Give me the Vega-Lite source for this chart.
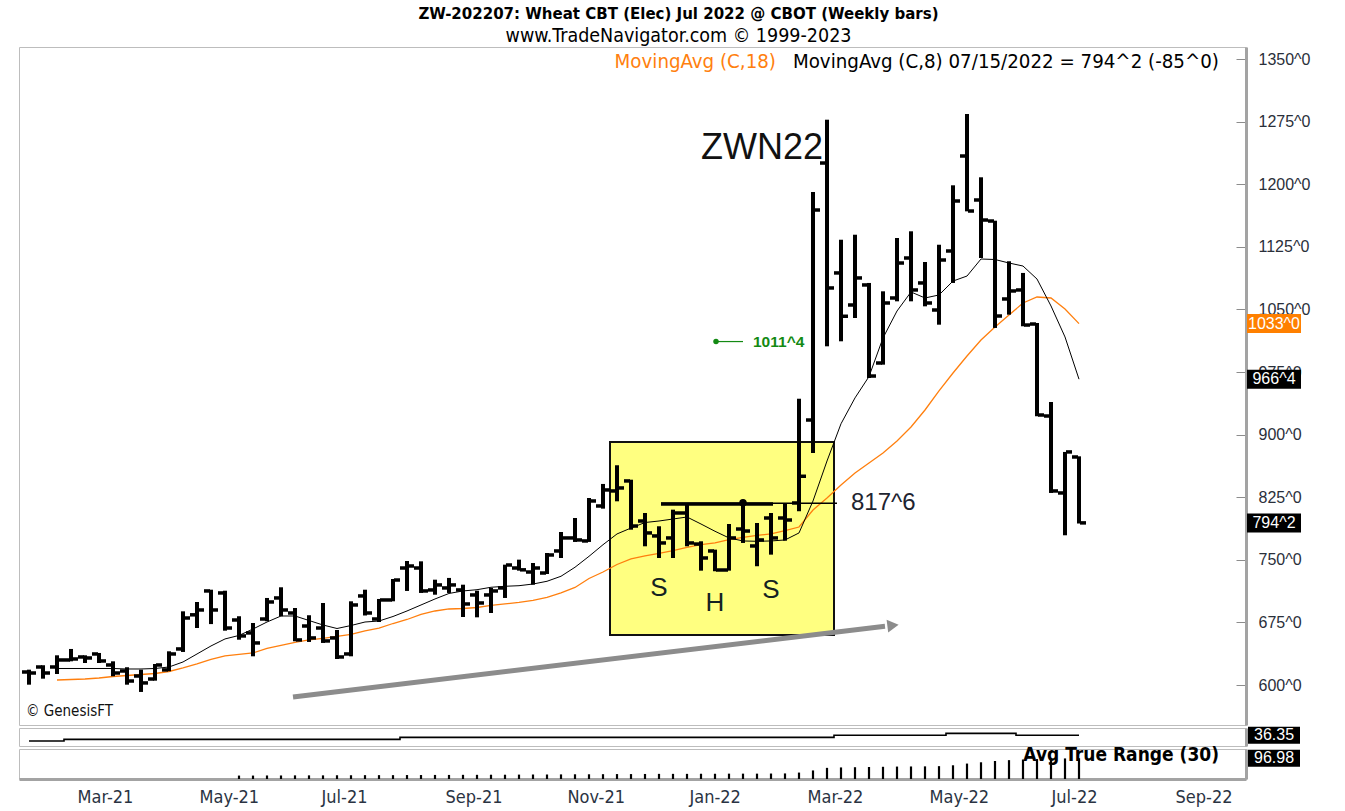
{
  "$schema": "https://vega.github.io/schema/vega-lite/v6.json",
  "background": "white",
  "padding": {"left": 18, "top": 6, "right": 0, "bottom": 0},
  "bounds": "flush",
  "title": {
    "text": "ZW-202207:  Wheat CBT (Elec) Jul 2022 @ CBOT  (Weekly bars)",
    "subtitle": "www.TradeNavigator.com © 1999-2023",
    "anchor": "middle",
    "font": "Liberation Sans Narrow, DejaVu Sans Condensed, Arial Narrow, sans-serif",
    "fontSize": 16.7,
    "fontWeight": "bold",
    "color": "#000",
    "subtitleFont": "Liberation Sans Narrow, DejaVu Sans Condensed, Arial Narrow, sans-serif",
    "subtitleFontSize": 19.5,
    "subtitleColor": "#000",
    "subtitlePadding": 4,
    "offset": 1,
    "dx": 14
  },
  "config": {
    "view": {"stroke": "#bdbdbd", "strokeWidth": 1},
    "axis": {"grid": false, "labelOverlap": false, "labelBound": false, "labelFlush": false}
  },
  "resolve": {"scale": {"x": "independent", "y": "independent"}},
  "spacing": 3,
  "datasets": {
    "bars": [
      {"d":"2021-02-05","o":615.6,"h":618.4,"l":600.4,"c":614.4,"ind":33.5},
      {"d":"2021-02-12","o":621.6,"h":623.7,"l":607.6,"c":614.4,"ind":33.5},
      {"d":"2021-02-19","o":621.6,"h":635.6,"l":613.2,"c":630.0,"m8":619.8,"m18":606.0,"ind":33.5},
      {"d":"2021-02-26","o":630.0,"h":643.2,"l":628.4,"c":631.2,"m8":619.8,"m18":606.6,"ind":34.3},
      {"d":"2021-03-05","o":633.6,"h":635.6,"l":626.4,"c":632.4,"m8":619.8,"m18":607.2,"ind":34.3},
      {"d":"2021-03-12","o":637.2,"h":638.4,"l":626.4,"c":628.8,"m8":619.8,"m18":608.4,"ind":34.3},
      {"d":"2021-03-19","o":624.0,"h":628.4,"l":610.5,"c":614.4,"m8":619.8,"m18":610.2,"ind":34.3},
      {"d":"2021-03-26","o":616.8,"h":621.3,"l":600.4,"c":604.8,"m8":619.2,"m18":611.4,"ind":34.3},
      {"d":"2021-04-02","o":610.8,"h":618.4,"l":591.7,"c":602.5,"m8":619.2,"m18":612.6,"ind":34.3},
      {"d":"2021-04-09","o":607.2,"h":625.2,"l":605.2,"c":624.0,"m8":619.8,"m18":613.8,"ind":34.3},
      {"d":"2021-04-16","o":618.1,"h":640.4,"l":616.5,"c":637.2,"m8":621.6,"m18":616.2,"ind":34.3},
      {"d":"2021-04-23","o":643.2,"h":688.3,"l":639.6,"c":680.3,"m8":627.6,"m18":620.4,"ind":34.3},
      {"d":"2021-04-30","o":684.1,"h":699.5,"l":668.3,"c":689.9,"m8":637.2,"m18":625.2,"ind":34.3},
      {"d":"2021-05-07","o":712.7,"h":714.2,"l":673.0,"c":689.9,"m8":646.8,"m18":630.6,"ind":34.3},
      {"d":"2021-05-14","o":710.3,"h":713.0,"l":665.1,"c":668.3,"m8":655.2,"m18":634.8,"ind":34.3},
      {"d":"2021-05-21","o":677.9,"h":682.4,"l":654.3,"c":658.8,"m8":659.4,"m18":636.6,"atr":16,"ind":34.3},
      {"d":"2021-05-28","o":662.4,"h":674.3,"l":634.4,"c":650.4,"m8":667.1,"m18":638.4,"atr":16,"ind":34.3},
      {"d":"2021-06-04","o":679.1,"h":704.3,"l":676.4,"c":699.5,"m8":675.5,"m18":643.8,"atr":16.5,"ind":34.3},
      {"d":"2021-06-11","o":704.3,"h":717.1,"l":682.4,"c":689.9,"m8":682.7,"m18":647.4,"atr":16.5,"ind":34.3},
      {"d":"2021-06-18","o":686.3,"h":692.3,"l":652.4,"c":654.0,"m8":682.7,"m18":651.0,"atr":17,"ind":34.3},
      {"d":"2021-06-25","o":670.7,"h":683.6,"l":651.6,"c":656.4,"m8":677.3,"m18":654.0,"atr":17,"ind":34.3},
      {"d":"2021-07-02","o":668.3,"h":698.3,"l":650.4,"c":652.8,"m8":671.9,"m18":655.8,"atr":17,"ind":34.3},
      {"d":"2021-07-09","o":656.4,"h":665.9,"l":631.2,"c":633.6,"m8":667.7,"m18":658.2,"atr":17.5,"ind":34.3},
      {"d":"2021-07-16","o":637.2,"h":700.3,"l":634.4,"c":695.9,"m8":671.3,"m18":660.6,"atr":17.5,"ind":34.3},
      {"d":"2021-07-23","o":706.7,"h":714.2,"l":683.3,"c":686.3,"m8":675.5,"m18":664.8,"atr":18,"ind":34.3},
      {"d":"2021-07-30","o":679.1,"h":703.1,"l":675.5,"c":701.9,"m8":676.7,"m18":668.3,"atr":18,"ind":34.3},
      {"d":"2021-08-06","o":701.9,"h":727.0,"l":700.3,"c":725.8,"m8":682.1,"m18":673.7,"atr":18,"ind":34.3},
      {"d":"2021-08-13","o":740.2,"h":748.6,"l":712.7,"c":742.6,"m8":688.7,"m18":678.5,"atr":18.5,"ind":35.3},
      {"d":"2021-08-20","o":740.2,"h":748.2,"l":710.3,"c":712.7,"m8":695.9,"m18":684.5,"atr":18.5,"ind":35.3},
      {"d":"2021-08-27","o":713.9,"h":726.2,"l":708.2,"c":719.9,"m8":703.1,"m18":688.7,"atr":19,"ind":35.3},
      {"d":"2021-09-03","o":716.3,"h":728.3,"l":710.3,"c":719.9,"m8":709.7,"m18":691.1,"atr":19,"ind":35.3},
      {"d":"2021-09-10","o":713.9,"h":720.2,"l":681.5,"c":697.1,"m8":712.7,"m18":691.7,"atr":19.5,"ind":35.3},
      {"d":"2021-09-17","o":707.9,"h":713.0,"l":681.1,"c":698.3,"m8":714.2,"m18":692.9,"atr":19.5,"ind":35.3},
      {"d":"2021-09-24","o":707.9,"h":716.3,"l":686.3,"c":712.7,"m8":717.1,"m18":695.3,"atr":20,"ind":35.3},
      {"d":"2021-10-01","o":716.3,"h":744.2,"l":704.3,"c":743.8,"m8":718.3,"m18":697.1,"atr":20,"ind":35.3},
      {"d":"2021-10-08","o":740.2,"h":750.2,"l":737.0,"c":738.0,"m8":719.0,"m18":698.9,"atr":20.5,"ind":35.3},
      {"d":"2021-10-15","o":735.4,"h":746.2,"l":720.2,"c":740.2,"m8":721.0,"m18":701.3,"atr":21,"ind":35.3},
      {"d":"2021-10-22","o":734.2,"h":758.2,"l":733.0,"c":755.8,"m8":724.3,"m18":704.9,"atr":21,"ind":35.3},
      {"d":"2021-10-29","o":760.6,"h":783.3,"l":752.2,"c":776.2,"m8":730.3,"m18":710.3,"atr":21.5,"ind":35.3},
      {"d":"2021-11-05","o":776.2,"h":800.1,"l":771.4,"c":773.8,"m8":741.1,"m18":716.9,"atr":22,"ind":35.3},
      {"d":"2021-11-12","o":772.6,"h":824.1,"l":771.4,"c":820.5,"m8":754.2,"m18":727.6,"atr":22,"ind":35.3},
      {"d":"2021-11-19","o":814.5,"h":840.9,"l":811.3,"c":833.7,"m8":768.1,"m18":735.4,"atr":22.5,"ind":35.3},
      {"d":"2021-11-26","o":832.5,"h":863.3,"l":820.1,"c":836.1,"m8":781.0,"m18":744.4,"atr":23,"ind":35.3},
      {"d":"2021-12-03","o":844.5,"h":846.0,"l":786.1,"c":790.5,"m8":788.1,"m18":751.0,"atr":23,"ind":35.3},
      {"d":"2021-12-10","o":796.5,"h":806.1,"l":766.2,"c":782.2,"m8":794.7,"m18":754.6,"atr":23.5,"ind":35.3},
      {"d":"2021-12-17","o":778.6,"h":790.2,"l":752.2,"c":770.2,"m8":796.5,"m18":757.6,"atr":24,"ind":35.3},
      {"d":"2021-12-24","o":776.2,"h":810.1,"l":752.2,"c":806.1,"m8":798.9,"m18":761.0,"atr":24,"ind":35.3},
      {"d":"2021-12-31","o":806.1,"h":818.1,"l":766.2,"c":770.2,"m8":801.3,"m18":764.8,"atr":24,"ind":35.3},
      {"d":"2022-01-07","o":768.9,"h":772.2,"l":737.0,"c":752.2,"m8":792.9,"m18":768.1,"atr":24.5,"ind":35.3},
      {"d":"2022-01-14","o":760.6,"h":762.2,"l":736.3,"c":737.8,"m8":784.2,"m18":770.2,"atr":24.5,"ind":35.3},
      {"d":"2022-01-21","o":737.8,"h":792.9,"l":737.0,"c":776.2,"m8":776.2,"m18":774.1,"atr":25,"ind":35.3},
      {"d":"2022-01-28","o":786.9,"h":820.1,"l":770.2,"c":784.5,"m8":772.6,"m18":777.0,"atr":25,"ind":35.3},
      {"d":"2022-02-04","o":766.6,"h":794.1,"l":742.3,"c":773.8,"m8":772.2,"m18":779.4,"atr":25,"ind":35.3},
      {"d":"2022-02-11","o":800.1,"h":806.1,"l":756.2,"c":776.2,"m8":772.6,"m18":781.0,"atr":25.5,"ind":35.3},
      {"d":"2022-02-18","o":800.1,"h":816.9,"l":772.9,"c":797.7,"m8":773.8,"m18":784.9,"atr":26,"ind":35.3},
      {"d":"2022-02-25","o":818.1,"h":943.0,"l":808.2,"c":850.1,"m8":782.2,"m18":789.3,"atr":30,"ind":35.3},
      {"d":"2022-03-04","o":917.5,"h":1190.7,"l":878.0,"c":1169.1,"m8":820.5,"m18":809.7,"atr":40,"ind":35.3},
      {"d":"2022-03-11","o":1225.4,"h":1277.3,"l":1005.8,"c":1075.7,"m8":868.4,"m18":824.1,"atr":52,"ind":35.3},
      {"d":"2022-03-18","o":1093.7,"h":1133.5,"l":1011.8,"c":1041.8,"m8":913.0,"m18":839.7,"atr":54,"ind":36.35},
      {"d":"2022-03-25","o":1055.3,"h":1139.5,"l":1039.7,"c":1087.7,"m8":944.0,"m18":854.0,"atr":55,"ind":36.35},
      {"d":"2022-04-01","o":1079.3,"h":1081.7,"l":967.8,"c":970.2,"m8":969.6,"m18":866.0,"atr":56,"ind":36.35},
      {"d":"2022-04-08","o":985.8,"h":1071.7,"l":983.8,"c":1057.7,"m8":1015.8,"m18":878.0,"atr":57,"ind":36.35},
      {"d":"2022-04-15","o":1063.7,"h":1135.6,"l":1059.7,"c":1105.6,"m8":1048.1,"m18":892.4,"atr":58,"ind":36.35},
      {"d":"2022-04-22","o":1111.6,"h":1143.6,"l":1059.7,"c":1073.3,"m8":1070.9,"m18":909.1,"atr":58.5,"ind":36.35},
      {"d":"2022-04-29","o":1081.7,"h":1106.8,"l":1053.7,"c":1057.7,"m8":1063.7,"m18":929.5,"atr":59,"ind":36.35},
      {"d":"2022-05-06","o":1049.3,"h":1127.5,"l":1031.7,"c":1109.2,"m8":1067.3,"m18":952.3,"atr":60,"ind":36.35},
      {"d":"2022-05-13","o":1120.0,"h":1198.7,"l":1081.7,"c":1179.9,"m8":1084.0,"m18":973.8,"atr":64,"ind":37.3},
      {"d":"2022-05-20","o":1233.8,"h":1284.1,"l":1167.5,"c":1167.9,"m8":1090.0,"m18":994.2,"atr":72,"ind":37.3},
      {"d":"2022-05-27","o":1181.1,"h":1208.3,"l":1111.6,"c":1157.1,"m8":1110.4,"m18":1013.4,"atr":78,"ind":37.3},
      {"d":"2022-06-03","o":1155.9,"h":1156.3,"l":1027.8,"c":1042.1,"m8":1109.8,"m18":1028.9,"atr":84,"ind":37.3},
      {"d":"2022-06-10","o":1062.5,"h":1107.7,"l":1043.7,"c":1072.1,"m8":1105.6,"m18":1043.3,"atr":88,"ind":37.3},
      {"d":"2022-06-17","o":1073.3,"h":1093.7,"l":1029.8,"c":1031.3,"m8":1102.0,"m18":1057.7,"atr":91,"ind":36.35},
      {"d":"2022-06-24","o":1032.5,"h":1033.7,"l":922.0,"c":923.5,"m8":1086.4,"m18":1064.9,"atr":93,"ind":36.35},
      {"d":"2022-07-01","o":922.3,"h":939.1,"l":830.1,"c":832.5,"m8":1054.1,"m18":1063.7,"atr":95,"ind":36.35},
      {"d":"2022-07-08","o":830.1,"h":879.25,"l":779.4,"c":879.25,"m8":1017.0,"m18":1050.5,"atr":96,"ind":36.35},
      {"d":"2022-07-15","o":873.2,"h":874.0,"l":793.5,"c":794.25,"m8":966.4,"m18":1033.0,"atr":96.98,"ind":36.35}
    ]
  },
  "vconcat": [
    {
      "width": 1227,
      "height": 678,
      "data": {"name": "bars"},
      "encoding": {
        "x": {"field": "d", "type": "temporal", "axis": null,
              "scale": {"type": "utc", "domain": [{"year": 2021, "month": 1, "date": 31, "utc": true}, {"year": 2022, "month": 10, "date": 6, "hours": 12, "utc": true}]}}
      },
      "layer": [
        {
          "data": {"values": [{"start": "2021-11-22T12:00:00Z", "end": "2022-03-14T12:00:00Z", "lo": 660.0, "hi": 891.2}]},
          "mark": {"type": "rect", "fill": "#ffff80", "stroke": "#111", "strokeWidth": 2},
          "encoding": {
            "x": {"field": "start", "type": "temporal", "axis": null, "scale": {"type": "utc", "domain": [{"year": 2021, "month": 1, "date": 31, "utc": true}, {"year": 2022, "month": 10, "date": 6, "hours": 12, "utc": true}]}},
            "x2": {"field": "end"},
            "y": {"field": "lo", "type": "quantitative", "scale": {"domain": [552.1, 1364.4], "nice": false, "zero": false},
                  "axis": {"orient": "right", "title": null,
                           "values": [600, 675, 750, 825, 900, 975, 1050, 1125, 1200, 1275, 1350],
                           "labelExpr": "datum.value + '^0'",
                           "tickSize": -10,
                           "tickColor": "#8c8c8c", "tickWidth": 1,
                           "labelPadding": 22, "labelAlign": "left", "labelBaseline": "middle",
                           "labelFont": "Liberation Sans, Arial, sans-serif", "labelFontSize": 16, "labelColor": "#2a2f3a",
                           "labelOverlap": false, "labelBound": false, "labelFlush": false,
                           "domainColor": "#a3a3a3", "domainWidth": 3}},
            "y2": {"field": "hi"}
          }
        },
        {
          "data": {"values": [{"d": "2021-06-17", "p": 585.7}, {"d": "2022-04-09", "p": 670.4}]},
          "mark": {"type": "line", "color": "#8c8c8c", "strokeWidth": 5, "strokeCap": "butt"},
          "encoding": {
            "y": {"field": "p", "type": "quantitative", "axis": {"title": null}, "scale": {"domain": [552.1, 1364.4], "nice": false, "zero": false}}
          }
        },
        {
          "data": {"values": [{"d": "2022-04-13", "p": 671.4}]},
          "mark": {"type": "point", "shape": "triangle-right", "filled": true, "color": "#8c8c8c", "size": 170, "angle": -7, "opacity": 1},
          "encoding": {
            "y": {"field": "p", "type": "quantitative", "axis": {"title": null}, "scale": {"domain": [552.1, 1364.4], "nice": false, "zero": false}}
          }
        },
        {
          "mark": {"type": "line", "color": "#ff7f0e", "strokeWidth": 1.3},
          "encoding": {
            "y": {"field": "m18", "type": "quantitative", "axis": {"title": null}, "scale": {"domain": [552.1, 1364.4], "nice": false, "zero": false}}
          }
        },
        {
          "mark": {"type": "line", "color": "#000", "strokeWidth": 1},
          "encoding": {
            "y": {"field": "m8", "type": "quantitative", "axis": {"title": null}, "scale": {"domain": [552.1, 1364.4], "nice": false, "zero": false}}
          }
        },
        {
          "data": {"values": [{"a": "2021-12-18", "b": "2022-03-16", "p": 817.75}]},
          "mark": {"type": "rule", "color": "#000", "strokeWidth": 1.5},
          "encoding": {
            "x": {"field": "a", "type": "temporal", "axis": null, "scale": {"type": "utc", "domain": [{"year": 2021, "month": 1, "date": 31, "utc": true}, {"year": 2022, "month": 10, "date": 6, "hours": 12, "utc": true}]}},
            "x2": {"field": "b"},
            "y": {"field": "p", "type": "quantitative", "axis": {"title": null}, "scale": {"domain": [552.1, 1364.4], "nice": false, "zero": false}}
          }
        },
        {
          "data": {"values": [{"a": "2021-12-18", "b": "2022-02-12", "p": 816.8}]},
          "mark": {"type": "rule", "color": "#000", "strokeWidth": 3.5},
          "encoding": {
            "x": {"field": "a", "type": "temporal", "axis": null, "scale": {"type": "utc", "domain": [{"year": 2021, "month": 1, "date": 31, "utc": true}, {"year": 2022, "month": 10, "date": 6, "hours": 12, "utc": true}]}},
            "x2": {"field": "b"},
            "y": {"field": "p", "type": "quantitative", "axis": {"title": null}, "scale": {"domain": [552.1, 1364.4], "nice": false, "zero": false}}
          }
        },
        {
          "data": {"values": [{"d": "2022-01-28", "p": 818.5}]},
          "mark": {"type": "circle", "color": "#000", "size": 55, "opacity": 1},
          "encoding": {
            "y": {"field": "p", "type": "quantitative", "axis": {"title": null}, "scale": {"domain": [552.1, 1364.4], "nice": false, "zero": false}}
          }
        },
        {
          "mark": {"type": "rule", "color": "#000", "strokeWidth": 4, "strokeCap": "butt"},
          "encoding": {
            "y": {"field": "l", "type": "quantitative", "axis": {"title": null}, "scale": {"domain": [552.1, 1364.4], "nice": false, "zero": false}},
            "y2": {"field": "h"}
          }
        },
        {
          "mark": {"type": "tick", "orient": "horizontal", "size": 6, "thickness": 3.5, "xOffset": -4, "color": "#000", "opacity": 1},
          "encoding": {
            "y": {"field": "o", "type": "quantitative", "axis": {"title": null}, "scale": {"domain": [552.1, 1364.4], "nice": false, "zero": false}}
          }
        },
        {
          "mark": {"type": "tick", "orient": "horizontal", "size": 6, "thickness": 3.5, "xOffset": 4, "color": "#000", "opacity": 1},
          "encoding": {
            "y": {"field": "c", "type": "quantitative", "axis": {"title": null}, "scale": {"domain": [552.1, 1364.4], "nice": false, "zero": false}}
          }
        },
        {
          "data": {"values": [{"d": "2022-01-14T12:00:00Z", "p": 1011.5}]},
          "mark": {"type": "circle", "color": "#138a13", "size": 30, "opacity": 1},
          "encoding": {
            "y": {"field": "p", "type": "quantitative", "axis": {"title": null}, "scale": {"domain": [552.1, 1364.4], "nice": false, "zero": false}}
          }
        },
        {
          "data": {"values": [{"a": "2022-01-14T12:00:00Z", "b": "2022-01-28", "p": 1011.5}]},
          "mark": {"type": "rule", "color": "#138a13", "strokeWidth": 1.2},
          "encoding": {
            "x": {"field": "a", "type": "temporal", "axis": null, "scale": {"type": "utc", "domain": [{"year": 2021, "month": 1, "date": 31, "utc": true}, {"year": 2022, "month": 10, "date": 6, "hours": 12, "utc": true}]}},
            "x2": {"field": "b"},
            "y": {"field": "p", "type": "quantitative", "axis": {"title": null}, "scale": {"domain": [552.1, 1364.4], "nice": false, "zero": false}}
          }
        },
        {
          "data": {"values": [{"d": "2022-02-02", "p": 1011.5, "t": "1011^4"}]},
          "mark": {"type": "text", "align": "left", "baseline": "middle", "font": "Liberation Sans, Arial, sans-serif", "fontSize": 15.5, "fontWeight": "bold", "color": "#138a13"},
          "encoding": {
            "y": {"field": "p", "type": "quantitative", "axis": {"title": null}, "scale": {"domain": [552.1, 1364.4], "nice": false, "zero": false}},
            "text": {"field": "t"}
          }
        },
        {
          "data": {"values": [{"d": "2022-03-09", "p": 1243.4, "t": "ZWN22"}]},
          "mark": {"type": "text", "align": "right", "baseline": "middle", "font": "Liberation Sans, Arial, sans-serif", "fontSize": 36, "color": "#111"},
          "encoding": {
            "y": {"field": "p", "type": "quantitative", "axis": {"title": null}, "scale": {"domain": [552.1, 1364.4], "nice": false, "zero": false}},
            "text": {"field": "t"}
          }
        },
        {
          "data": {"values": [{"d": "2022-03-23", "p": 817.75, "t": "817^6"}]},
          "mark": {"type": "text", "align": "left", "baseline": "middle", "font": "Liberation Sans, Arial, sans-serif", "fontSize": 24, "color": "#1e2430"},
          "encoding": {
            "y": {"field": "p", "type": "quantitative", "axis": {"title": null}, "scale": {"domain": [552.1, 1364.4], "nice": false, "zero": false}},
            "text": {"field": "t"}
          }
        },
        {
          "data": {"values": [{"d": "2021-12-17", "p": 716.3, "t": "S"}, {"d": "2022-01-14", "p": 698.3, "t": "H"}, {"d": "2022-02-11", "p": 713.9, "t": "S"}]},
          "mark": {"type": "text", "align": "center", "baseline": "middle", "font": "Liberation Sans, Arial, sans-serif", "fontSize": 26, "color": "#142222"},
          "encoding": {
            "y": {"field": "p", "type": "quantitative", "axis": {"title": null}, "scale": {"domain": [552.1, 1364.4], "nice": false, "zero": false}},
            "text": {"field": "t"}
          }
        },
        {
          "data": {"values": [{"d": "2021-02-03T12:00:00Z", "p": 568.9, "t": "© GenesisFT"}]},
          "mark": {"type": "text", "align": "left", "baseline": "middle", "font": "Liberation Sans Narrow, DejaVu Sans Condensed, Arial Narrow, sans-serif", "fontSize": 15, "color": "#111"},
          "encoding": {
            "y": {"field": "p", "type": "quantitative", "axis": {"title": null}, "scale": {"domain": [552.1, 1364.4], "nice": false, "zero": false}},
            "text": {"field": "t"}
          }
        },
        {
          "data": {"values": [{"d": "2022-09-23", "p": 1347, "t": "MovingAvg (C,8)   07/15/2022 = 794^2 (-85^0)"}]},
          "mark": {"type": "text", "align": "right", "baseline": "middle", "font": "Liberation Sans Narrow, DejaVu Sans Condensed, Arial Narrow, sans-serif", "fontSize": 20.3, "color": "#000"},
          "encoding": {
            "y": {"field": "p", "type": "quantitative", "axis": {"title": null}, "scale": {"domain": [552.1, 1364.4], "nice": false, "zero": false}},
            "text": {"field": "t"}
          }
        },
        {
          "data": {"values": [{"d": "2022-02-13T12:00:00Z", "p": 1347, "t": "MovingAvg (C,18)"}]},
          "mark": {"type": "text", "align": "right", "baseline": "middle", "font": "Liberation Sans Narrow, DejaVu Sans Condensed, Arial Narrow, sans-serif", "fontSize": 20.3, "color": "#ff7f0e"},
          "encoding": {
            "y": {"field": "p", "type": "quantitative", "axis": {"title": null}, "scale": {"domain": [552.1, 1364.4], "nice": false, "zero": false}},
            "text": {"field": "t"}
          }
        },
        {
          "data": {"values": [{"d": "2022-10-20T12:00:00Z", "kind": "ma18", "v": 1033.0, "t": "1033^0"}, {"d": "2022-10-20T12:00:00Z", "kind": "ma8", "v": 966.4, "t": "966^4"}, {"d": "2022-10-20T12:00:00Z", "kind": "close", "v": 794.25, "t": "794^2"}]},
          "mark": {"type": "tick", "orient": "horizontal", "size": 54, "thickness": 19, "opacity": 1},
          "encoding": {
            "y": {"field": "v", "type": "quantitative", "axis": {"title": null}, "scale": {"domain": [552.1, 1364.4], "nice": false, "zero": false}},
            "color": {"condition": {"test": "datum.kind === 'ma18'", "value": "#ff8000"}, "value": "#000"}
          }
        },
        {
          "data": {"values": [{"d": "2022-10-20T12:00:00Z", "kind": "ma18", "v": 1033.0, "t": "1033^0"}, {"d": "2022-10-20T12:00:00Z", "kind": "ma8", "v": 966.4, "t": "966^4"}, {"d": "2022-10-20T12:00:00Z", "kind": "close", "v": 794.25, "t": "794^2"}]},
          "mark": {"type": "text", "align": "center", "baseline": "middle", "font": "Liberation Sans, Arial, sans-serif", "fontSize": 16, "color": "#fff"},
          "encoding": {
            "y": {"field": "v", "type": "quantitative", "axis": {"title": null}, "scale": {"domain": [552.1, 1364.4], "nice": false, "zero": false}},
            "text": {"field": "t"}
          }
        }
      ]
    },
    {
      "width": 1227,
      "height": 18,
      "data": {"name": "bars"},
      "encoding": {
        "x": {"field": "d", "type": "temporal", "axis": null,
              "scale": {"type": "utc", "domain": [{"year": 2021, "month": 1, "date": 31, "utc": true}, {"year": 2022, "month": 10, "date": 6, "hours": 12, "utc": true}]}}
      },
      "layer": [
        {
          "mark": {"type": "line", "interpolate": "step", "color": "#000", "strokeWidth": 1.6},
          "encoding": {
            "y": {"field": "ind", "type": "quantitative", "scale": {"domain": [31, 40], "nice": false, "zero": false},
                  "axis": {"orient": "right", "labels": false, "ticks": false, "title": null, "domainColor": "#a3a3a3", "domainWidth": 3}}
          }
        },
        {
          "data": {"values": [{"d": "2022-10-20T12:00:00Z", "v": 36.35, "t": "36.35"}]},
          "mark": {"type": "tick", "orient": "horizontal", "size": 52, "thickness": 17, "color": "#000", "opacity": 1},
          "encoding": {
            "y": {"field": "v", "type": "quantitative", "axis": {"title": null}, "scale": {"domain": [31, 40], "nice": false, "zero": false}}
          }
        },
        {
          "data": {"values": [{"d": "2022-10-20T12:00:00Z", "v": 36.35, "t": "36.35"}]},
          "mark": {"type": "text", "align": "center", "baseline": "middle", "font": "Liberation Sans, Arial, sans-serif", "fontSize": 16, "color": "#fff"},
          "encoding": {
            "y": {"field": "v", "type": "quantitative", "axis": {"title": null}, "scale": {"domain": [31, 40], "nice": false, "zero": false}},
            "text": {"field": "t"}
          }
        }
      ]
    },
    {
      "width": 1227,
      "height": 30,
      "data": {"name": "bars"},
      "encoding": {
        "x": {"field": "d", "type": "temporal",
              "scale": {"type": "utc", "domain": [{"year": 2021, "month": 1, "date": 31, "utc": true}, {"year": 2022, "month": 10, "date": 6, "hours": 12, "utc": true}]},
              "axis": {"title": null, "format": "%b-%y", "labelAlign": "left", "ticks": false, "labelPadding": 9,
                       "labelFont": "Liberation Sans Narrow, DejaVu Sans Condensed, Arial Narrow, sans-serif", "labelFontSize": 18, "labelColor": "#2a3342",
                       "labelOverlap": false, "labelFlush": false, "domainColor": "#a3a3a3", "domainWidth": 3,
                       "values": [{"year": 2021, "month": 3, "date": 1, "utc": true}, {"year": 2021, "month": 5, "date": 1, "utc": true}, {"year": 2021, "month": 7, "date": 1, "utc": true}, {"year": 2021, "month": 9, "date": 1, "utc": true}, {"year": 2021, "month": 11, "date": 1, "utc": true}, {"year": 2022, "month": 1, "date": 1, "utc": true}, {"year": 2022, "month": 3, "date": 1, "utc": true}, {"year": 2022, "month": 5, "date": 1, "utc": true}, {"year": 2022, "month": 7, "date": 1, "utc": true}, {"year": 2022, "month": 9, "date": 1, "utc": true}]}}
      },
      "layer": [
        {
          "mark": {"type": "rule", "color": "#000", "strokeWidth": 2.2},
          "encoding": {
            "y": {"field": "atr", "type": "quantitative", "scale": {"domain": [0, 140], "nice": false},
                  "axis": {"orient": "right", "labels": false, "ticks": false, "title": null, "domainColor": "#a3a3a3", "domainWidth": 3}},
            "y2": {"datum": 0}
          }
        },
        {
          "data": {"values": [{"d": "2022-09-23", "v": 112, "t": "Avg True Range (30)"}]},
          "mark": {"type": "text", "align": "right", "baseline": "middle", "font": "Liberation Sans Narrow, DejaVu Sans Condensed, Arial Narrow, sans-serif", "fontSize": 19, "fontWeight": "bold", "color": "#000"},
          "encoding": {
            "y": {"field": "v", "type": "quantitative", "axis": {"title": null}, "scale": {"domain": [0, 140], "nice": false}},
            "text": {"field": "t"}
          }
        },
        {
          "data": {"values": [{"d": "2022-10-20T12:00:00Z", "v": 96.98, "t": "96.98"}]},
          "mark": {"type": "tick", "orient": "horizontal", "size": 52, "thickness": 17, "color": "#000", "opacity": 1},
          "encoding": {
            "y": {"field": "v", "type": "quantitative", "axis": {"title": null}, "scale": {"domain": [0, 140], "nice": false}}
          }
        },
        {
          "data": {"values": [{"d": "2022-10-20T12:00:00Z", "v": 96.98, "t": "96.98"}]},
          "mark": {"type": "text", "align": "center", "baseline": "middle", "font": "Liberation Sans, Arial, sans-serif", "fontSize": 16, "color": "#fff"},
          "encoding": {
            "y": {"field": "v", "type": "quantitative", "axis": {"title": null}, "scale": {"domain": [0, 140], "nice": false}},
            "text": {"field": "t"}
          }
        }
      ]
    }
  ]
}
